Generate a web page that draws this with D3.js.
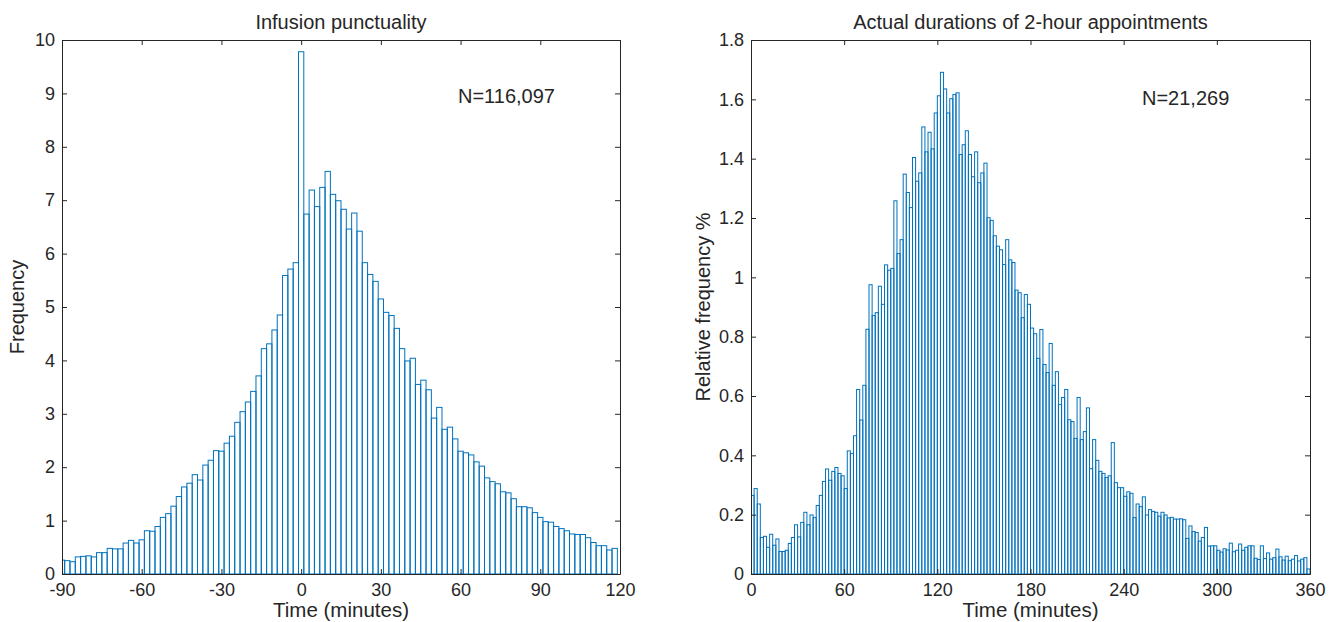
<!DOCTYPE html>
<meta charset="utf-8">
<head>
  <title>Infusion histograms</title>
</head>

<style>
body { margin: 0; background: #fff; }
text { font-family: "Liberation Sans", Arial, Helvetica, sans-serif; fill: #262626; }
.axis path, .axis line { stroke: #262626; }
.axis text { font-size: 18px; fill: #262626; }
.bar { fill: none; stroke: #0072BD; stroke-width: 1; }
</style>

<body>
  <svg width="1338" height="622"></svg>

  <script src="https://cdn.jsdelivr.net/npm/d3@7"></script>
  <script>
// left: frequency (%) per 2-minute bin, bins centred on -90, -88, ... 118
var punctuality = [
  0.26, 0.25, 0.23, 0.32, 0.33, 0.34, 0.32, 0.40, 0.40, 0.48,
  0.47, 0.47, 0.58, 0.63, 0.58, 0.64, 0.81, 0.80, 0.89, 1.06,
  1.13, 1.27, 1.45, 1.63, 1.70, 1.86, 1.76, 2.04, 2.13, 2.31,
  2.30, 2.45, 2.58, 2.84, 3.04, 3.22, 3.42, 3.71, 4.22, 4.31,
  4.57, 4.85, 5.59, 5.71, 5.83, 9.78, 6.74, 7.19, 6.88, 7.24,
  7.54, 7.11, 6.99, 6.83, 6.46, 6.76, 6.42, 5.83, 5.61, 5.48,
  5.15, 4.90, 4.84, 4.60, 4.22, 3.99, 4.04, 3.55, 3.63, 3.45,
  2.92, 3.12, 2.71, 2.75, 2.53, 2.30, 2.27, 2.23, 2.10, 2.02,
  1.80, 1.73, 1.69, 1.54, 1.52, 1.41, 1.26, 1.26, 1.24, 1.15,
  1.06, 0.98, 0.97, 0.89, 0.85, 0.81, 0.75, 0.74, 0.74, 0.68,
  0.59, 0.53, 0.53, 0.45, 0.48
];

// right: relative frequency (%) per 2-minute bin, bins start at 0, 2, ... 358
var durations = [
  0.265, 0.288, 0.236, 0.123, 0.127, 0.090, 0.134, 0.097, 0.118, 0.076,
  0.076, 0.080, 0.103, 0.123, 0.166, 0.125, 0.174, 0.208, 0.166, 0.199,
  0.190, 0.231, 0.265, 0.312, 0.354, 0.316, 0.346, 0.359, 0.339, 0.331,
  0.288, 0.415, 0.406, 0.466, 0.622, 0.519, 0.636, 0.825, 0.975, 0.871,
  0.881, 0.970, 0.909, 1.042, 1.024, 1.030, 1.258, 1.080, 1.127, 1.348,
  1.286, 1.235, 1.404, 1.324, 1.352, 1.507, 1.423, 1.489, 1.433, 1.554,
  1.612, 1.691, 1.635, 1.554, 1.602, 1.616, 1.622, 1.414, 1.447, 1.494,
  1.414, 1.339, 1.423, 1.319, 1.352, 1.385, 1.201, 1.192, 1.140, 1.105,
  1.093, 1.043, 1.127, 1.059, 1.050, 0.957, 0.948, 0.864, 0.942, 0.909,
  0.829, 0.810, 0.727, 0.824, 0.706, 0.679, 0.777, 0.636, 0.682, 0.571,
  0.595, 0.622, 0.520, 0.514, 0.457, 0.595, 0.453, 0.480, 0.560, 0.355,
  0.453, 0.383, 0.346, 0.339, 0.325, 0.331, 0.443, 0.308, 0.291, 0.291,
  0.262, 0.277, 0.272, 0.190, 0.236, 0.227, 0.260, 0.199, 0.217, 0.211,
  0.208, 0.195, 0.208, 0.199, 0.189, 0.191, 0.185, 0.185, 0.186, 0.183,
  0.120, 0.162, 0.143, 0.140, 0.111, 0.123, 0.157, 0.094, 0.095, 0.095,
  0.080, 0.074, 0.085, 0.081, 0.104, 0.075, 0.080, 0.101, 0.080, 0.090,
  0.095, 0.095, 0.053, 0.049, 0.095, 0.052, 0.071, 0.050, 0.055, 0.084,
  0.058, 0.047, 0.060, 0.045, 0.050, 0.062, 0.044, 0.050, 0.055, 0.017
];

var leftXTicks = [-90, -60, -30, 0, 30, 60, 90, 120];
var leftYTicks = [0, 1, 2, 3, 4, 5, 6, 7, 8, 9, 10];
var rightXTicks = [0, 60, 120, 180, 240, 300, 360];
var rightYTicks = [0, 0.2, 0.4, 0.6, 0.8, 1, 1.2, 1.4, 1.6, 1.8];

var svg = d3.select('svg');
var plain = function(d) { return String(d); };

function drawPanel(opt) {
  var x = d3.scaleLinear().domain(opt.xDomain).range([opt.left, opt.right]);
  var y = d3.scaleLinear().domain(opt.yDomain).range([574, 40]);

  var g = svg.append('g');

  g.append('clipPath').attr('id', opt.id)
    .append('rect')
    .attr('x', opt.left).attr('y', 40)
    .attr('width', opt.right - opt.left).attr('height', 534);

  g.append('g')
    .attr('clip-path', 'url(#' + opt.id + ')')
    .selectAll('rect')
    .data(opt.bins)
    .enter()
    .append('rect')
    .attr('class', 'bar')
    .attr('x', function(d) { return x(d.x0); })
    .attr('width', function(d) { return x(d.x1) - x(d.x0); })
    .attr('y', function(d) { return y(d.v); })
    .attr('height', function(d) { return y(0) - y(d.v); });

  g.append('g').attr('class', 'axis')
    .attr('transform', 'translate(0,574)')
    .call(d3.axisBottom(x).tickValues(opt.xTicks).tickSizeInner(-5).tickSizeOuter(0)
      .tickPadding(9).tickFormat(plain));
  g.append('g').attr('class', 'axis')
    .attr('transform', 'translate(0,40)')
    .call(d3.axisTop(x).tickValues(opt.xTicks).tickSizeInner(-5).tickSizeOuter(0).tickFormat(''));
  g.append('g').attr('class', 'axis')
    .attr('transform', 'translate(' + opt.left + ',0)')
    .call(d3.axisLeft(y).tickValues(opt.yTicks).tickSizeInner(-5).tickSizeOuter(0)
      .tickPadding(7).tickFormat(plain));
  g.append('g').attr('class', 'axis')
    .attr('transform', 'translate(' + opt.right + ',0)')
    .call(d3.axisRight(y).tickValues(opt.yTicks).tickSizeInner(-5).tickSizeOuter(0).tickFormat(''));

  g.selectAll('.axis text').attr('font-size', 18).style('font-family', '"Liberation Sans", Arial, sans-serif');

  var mid = (opt.left + opt.right) / 2;
  g.append('text')
    .attr('x', mid).attr('y', 29)
    .attr('text-anchor', 'middle')
    .style('font-size', '20px')
    .text(opt.title);

  g.append('text')
    .attr('x', mid).attr('y', 617)
    .attr('text-anchor', 'middle')
    .style('font-size', '20.5px')
    .text(opt.xLabel);

  g.append('text')
    .attr('transform', 'translate(' + opt.yLabelX + ',307) rotate(-90)')
    .attr('text-anchor', 'middle')
    .style('font-size', '20px')
    .text(opt.yLabel);

  g.append('text')
    .attr('x', opt.nX).attr('y', opt.nY)
    .style('font-size', '20px')
    .text(opt.note);
}

drawPanel({
  id: 'clipL',
  left: 62, right: 620,
  xDomain: [-90, 120], yDomain: [0, 10],
  xTicks: leftXTicks, yTicks: leftYTicks,
  bins: punctuality.map(function(v, i) {
    var c = -90 + 2 * i;
    return { x0: c - 1, x1: c + 1, v: v };
  }),
  title: 'Infusion punctuality',
  xLabel: 'Time (minutes)',
  yLabel: 'Frequency', yLabelX: 24,
  note: 'N=116,097', nX: 458, nY: 103
});

drawPanel({
  id: 'clipR',
  left: 751, right: 1310,
  xDomain: [0, 360], yDomain: [0, 1.8],
  xTicks: rightXTicks, yTicks: rightYTicks,
  bins: durations.map(function(v, i) {
    return { x0: 2 * i, x1: 2 * i + 2, v: v };
  }),
  title: 'Actual durations of 2-hour appointments',
  xLabel: 'Time (minutes)',
  yLabel: 'Relative frequency %', yLabelX: 710,
  note: 'N=21,269', nX: 1142, nY: 105
});
  </script>
</body>
</html>
